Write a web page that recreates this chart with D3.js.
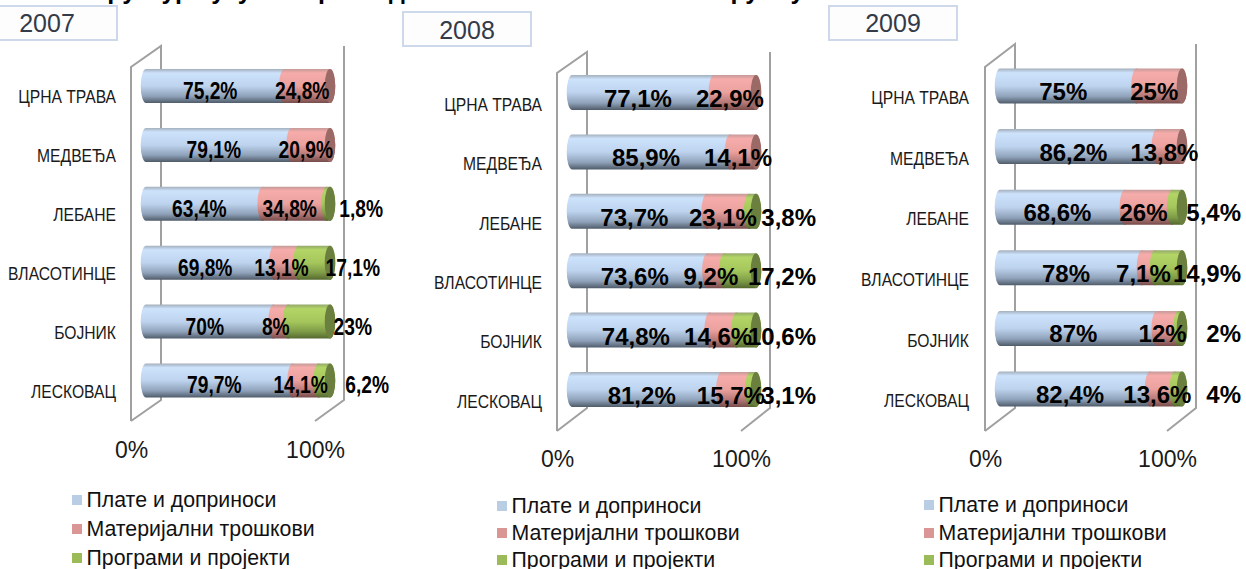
<!DOCTYPE html>
<html>
<head>
<meta charset="utf-8">
<title>Структура расхода</title>
<script src="https://cdn.jsdelivr.net/npm/d3@7"></script>
<style>
body{margin:0;background:#fff;}
svg{display:block;}
text{font-family:"Liberation Sans",Arial,sans-serif;}
</style>
</head>
<body>
<div id="chart"></div>
<script>
var categories = ["ЦРНА ТРАВА","МЕДВЕЂА","ЛЕБАНЕ","ВЛАСОТИНЦЕ","БОЈНИК","ЛЕСКОВАЦ"];
var seriesNames = ["Плате и доприноси","Материјални трошкови","Програми и пројекти"];
var axisTicks = [0,1];

var plate2007 = [75.2,79.1,63.4,69.8,70,79.7];
var material2007 = [24.8,20.9,34.8,13.1,8,14.1];
var programi2007 = [0,0,1.8,17.1,23,6.2];

var plate2008 = [77.1,85.9,73.7,73.6,74.8,81.2];
var material2008 = [22.9,14.1,23.1,9.2,14.6,15.7];
var programi2008 = [0,0,3.8,17.2,10.6,3.1];

var plate2009 = [75,86.2,68.6,78,87,82.4];
var material2009 = [25,13.8,26,7.1,12,13.6];
var programi2009 = [0,0,5.4,14.9,2,4];

// title is cut off at the top of the source image, only the descenders show,
// so the wording here is a best guess
var titleText = "Структура укупних расхода општина Јабланичког округа у";

var w = 1246, h = 569;
var fills = ["#b9cde5","#d99694","#9bbb59"];
var capFills = ["#8ea0b5","#9c6a66","#6b803f"];
var ramps = [
  ["#a3afbc","#cde2fb","#bed3ee","#8fa2ba","#4f5b69"],
  ["#c49a98","#f6acaa","#eba19e","#b37775","#774d4c"],
  ["#93a86a","#b3d566","#a5c65c","#7d9a46","#55682f"]
];
var rampStops = [0,0.12,0.5,0.8,1];

var panels = [
  {year:"2007", plate:plate2007, material:material2007, programi:programi2007,
   box:[-2,6,119,34], yearX:47, yearY:32,
   x0:131, x1:315, top:46, bottom:400, frontTop:67, frontBottom:421,
   first:86, last:380.5, barH:34, catDy:11, lblDy:4.5, axisY:458,
   catX:116, lblStretch:0.8, lblSize:24,
   thirdEnd:[0,0,383,380,372,389],
   legX:72, legY:[500,529,558]},
  {year:"2008", plate:plate2008, material:material2008, programi:programi2008,
   box:[403,12,128,34], yearX:467, yearY:39,
   x0:557, x1:741, top:52, bottom:408, frontTop:73, frontBottom:431,
   first:92.5, last:389.5, barH:35, catDy:12, lblDy:6, axisY:467,
   catX:542, lblStretch:1, lblSize:24,
   thirdEnd:[0,0,816,816,816,816],
   legX:497, legY:[506,533,560]},
  {year:"2009", plate:plate2009, material:material2009, programi:programi2009,
   box:[829,6,128,34], yearX:893, yearY:32,
   x0:985, x1:1167, top:44, bottom:408, frontTop:67, frontBottom:431,
   first:86, last:389, barH:35, catDy:12, lblDy:5.5, axisY:467,
   catX:969, lblStretch:1, lblSize:24,
   thirdEnd:[0,0,1241,1241,1241,1241],
   legX:924, legY:[505,533,560]}
];

function init(){
  var svg = d3.select("#chart").append("svg")
              .attr("width",w)
              .attr("height",h);

  var defs = svg.append("defs");
  ramps.forEach(function(r,i){
    var g = defs.append("linearGradient")
                .attr("id","cyl"+i)
                .attr("x1",0).attr("y1",0).attr("x2",0).attr("y2",1);
    r.forEach(function(c,j){
      g.append("stop").attr("offset",rampStops[j]).attr("stop-color",c);
    });
  });

  svg.append("text")
     .attr("x",77)
     .attr("y",-1)
     .attr("font-size",25)
     .attr("font-weight","bold")
     .attr("fill","#000")
     .text(titleText);

  panels.forEach(function(p){ drawPanel(svg,p); });
}

function drawPanel(svg,p){
  var g = svg.append("g");
  var depth = 15;   // bars sit half way into the 3d floor
  var rx = 5.3;

  var xFront = d3.scaleLinear().domain([0,1]).range([p.x0,p.x1]);
  var xBar = d3.scaleLinear().domain([0,1]).range([p.x0+depth,p.x1+depth]);
  var xLabel = d3.scaleLinear().domain([0,1]).range([p.x0+depth-5,p.x1+depth-5]);
  var y = d3.scalePoint().domain(categories).range([p.first,p.last]);

  var rows = categories.map(function(c,i){
    return {cat:c, s0:p.plate[i], s1:p.material[i], s2:p.programi[i]};
  });
  var stacked = d3.stack()
                  .keys(["s0","s1","s2"])
                  .offset(d3.stackOffsetExpand)(rows);

  // year box
  g.append("rect")
   .attr("x",p.box[0]).attr("y",p.box[1])
   .attr("width",p.box[2]).attr("height",p.box[3])
   .attr("fill","#fdfdfe")
   .attr("stroke","#cdd8ea")
   .attr("stroke-width",2);
  g.append("text")
   .attr("x",p.yearX).attr("y",p.yearY)
   .attr("text-anchor","middle")
   .attr("font-size",25)
   .attr("fill","#333a48")
   .text(p.year);

  // 3d walls
  var wall = g.append("g")
              .attr("fill","none")
              .attr("stroke","#a0a0a0")
              .attr("stroke-width",2);
  var line = d3.line();
  wall.append("path").attr("d",line([[xFront(0),p.frontBottom],[xFront(0),p.frontTop],[xFront(0)+30,p.top],[xFront(0)+30,p.bottom],[xFront(0),p.frontBottom]]));
  wall.append("path").attr("d",line([[xFront(1)+29,p.top],[xFront(1)+29,p.bottom],[xFront(1),p.frontBottom]]));

  // bars
  stacked.forEach(function(layer,si){
    g.append("g").selectAll("path")
     .data(layer.filter(function(d){ return d[1]-d[0]>0; }))
     .enter()
     .append("path")
     .attr("fill","url(#cyl"+si+")")
     .attr("d",function(d){
       var a = xBar(d[0]), b = xBar(d[1]);
       var t = y(d.data.cat)-p.barH/2, u = y(d.data.cat)+p.barH/2, ry = p.barH/2;
       return "M"+a+","+t+"L"+b+","+t+
              "A"+rx+","+ry+" 0 0 1 "+b+","+u+
              "L"+a+","+u+
              "A"+rx+","+ry+" 0 0 1 "+a+","+t+"Z";
     });
  });

  // end caps
  g.append("g").selectAll("ellipse")
   .data(rows)
   .enter()
   .append("ellipse")
   .attr("cx",xBar(1))
   .attr("cy",function(d){ return y(d.cat); })
   .attr("rx",rx)
   .attr("ry",p.barH/2)
   .attr("fill",function(d){ return d.s2>0 ? capFills[2] : capFills[1]; });

  // axes
  var yAxis = g.append("g")
               .attr("transform","translate("+p.catX+","+p.catDy+")")
               .call(d3.axisLeft(y).tickSize(0).tickPadding(0));
  yAxis.select(".domain").remove();
  yAxis.selectAll("text")
       .style("font-family",'"Liberation Sans"')
       .attr("font-size",18)
       .attr("transform","scale(0.87,1)")
       .attr("fill","#1a1a1a");

  var xAxis = g.append("g")
               .attr("transform","translate(0,"+p.axisY+")")
               .call(d3.axisBottom(xFront).tickValues(axisTicks).tickSize(0).tickPadding(0).tickFormat(d3.format(".0%")));
  xAxis.select(".domain").remove();
  xAxis.selectAll("text")
       .attr("dy",0)
       .attr("font-size",23)
       .attr("fill","#1a1a1a");

  // value labels
  var vals = [p.plate,p.material,p.programi];
  stacked.forEach(function(layer,si){
    g.append("g").selectAll("text")
     .data(layer.map(function(d,i){ return {d:d,i:i}; }).filter(function(o){ return vals[si][o.i]>0; }))
     .enter()
     .append("text")
     .attr("transform",function(o){
       var lx = si==2 ? p.thirdEnd[o.i] : xLabel((o.d[0]+o.d[1])/2);
       return "translate("+lx+","+(y(o.d.data.cat)+p.lblDy)+") scale("+p.lblStretch+",1)";
     })
     .attr("dy","0.35em")
     .attr("text-anchor",si==2 ? "end" : "middle")
     .style("font-family",'"Liberation Sans"')
     .attr("font-size",p.lblSize)
     .attr("font-weight","bold")
     .attr("fill","#000")
     .text(function(o){ return (vals[si][o.i]+"").replace(".",",")+"%"; });
  });

  // legend
  var leg = g.append("g").selectAll("g")
             .data(seriesNames)
             .enter()
             .append("g")
             .attr("transform",function(d,i){ return "translate("+p.legX+","+p.legY[i]+")"; });
  leg.append("rect")
     .attr("x",0).attr("y",-5)
     .attr("width",10).attr("height",10)
     .attr("fill",function(d,i){ return fills[i]; });
  leg.append("text")
     .attr("x",14.5)
     .attr("dy","0.35em")
     .attr("font-size",21.3)
     .attr("fill","#111")
     .text(function(d){ return d; });
}

window.onload = init;
</script>
</body>
</html>
